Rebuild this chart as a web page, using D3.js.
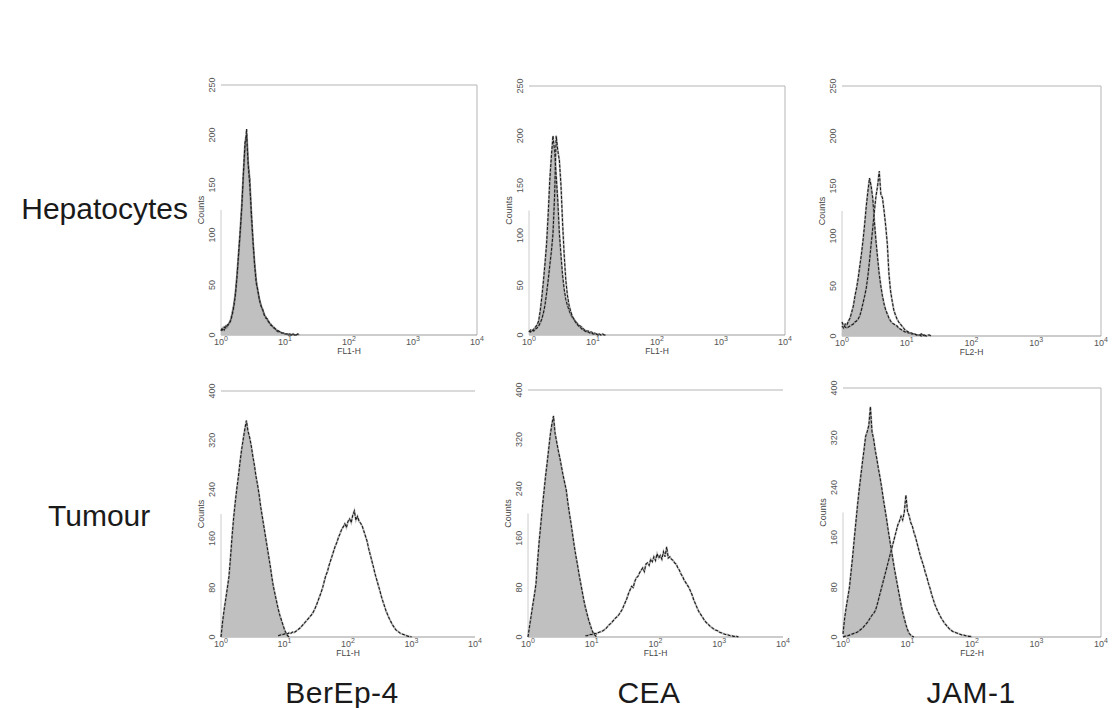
<!DOCTYPE html>
<html><head><meta charset="utf-8">
<script src="https://cdn.jsdelivr.net/npm/d3@7"></script>
<style>body{margin:0;background:#fff}svg{display:block}</style>
</head><body>
<svg id="c" width="1113" height="708"></svg>
<script>
// ---------------- data ----------------
const rowLabels = ["Hepatocytes", "Tumour"];
const colLabels = ["BerEp-4", "CEA", "JAM-1"];
const channelLabels = ["FL1-H", "FL1-H", "FL2-H"];
const xTickExponents = [0, 1, 2, 3, 4];
const hepYTicks = [0, 50, 100, 150, 200, 250];
const tumYTicks = [0, 80, 160, 240, 320, 400];
const decadeStep = 0.025; // histogram channel width in log decades

// Hepatocytes – BerEp-4
const hepBerEpControlStart = 0;
const hepBerEpControl = [4,7,5,9,8,12,15,22,30,42,60,80,102,130,160,188,206,172,156,118,92,72,55,44,36,30,25,21,18,15,12,11,9,7,6,4,3,3,2,2,1,1,0,1,0,1,0,0,1,0];
const hepBerEpSampleStart = 0;
const hepBerEpSample = [6,5,8,7,10,11,14,20,28,40,58,82,104,128,162,192,200,170,150,122,95,70,52,45,35,29,26,20,17,16,13,10,9,8,6,5,4,3,2,2,1,1,1,0,0,1,0,0];
// Hepatocytes – CEA
const hepCeaControlStart = 0;
const hepCeaControl = [3,5,4,6,8,10,14,24,38,54,72,92,122,156,180,200,185,160,135,102,80,60,46,36,30,25,21,18,16,14,12,10,9,8,6,5,4,4,3,3,2,2,1,1,1,0,1,0,0];
const hepCeaSampleStart = 0;
const hepCeaSample = [4,3,5,4,6,7,9,12,16,22,30,42,55,70,84,102,140,200,185,175,150,112,80,55,40,30,24,19,16,13,11,9,8,6,5,4,3,3,2,2,1,1,1,0,0];
// Hepatocytes – JAM-1
const hepJamControlStart = 0;
const hepJamControl = [10,8,12,11,15,18,24,30,40,48,58,70,82,96,112,130,145,158,150,138,115,95,78,62,50,40,32,26,22,18,15,13,12,11,10,8,7,6,5,4,4,3,3,2,2,2,1,1,1,2,1,1,0,1,1,0];
const hepJamSampleStart = 0;
const hepJamSample = [14,10,9,8,9,10,11,12,14,15,17,20,26,33,40,48,60,75,92,108,125,140,150,165,142,138,125,110,92,62,45,35,26,21,17,14,12,10,8,6,5,4,3,3,2,2,1,1,1,0,1,0];
// Tumour – BerEp-4
const tumBerEpControlStart = 0;
const tumBerEpControl = [0,25,45,62,80,98,130,165,195,220,242,262,285,305,322,338,352,335,325,312,295,280,262,248,232,212,196,180,164,148,132,116,98,82,70,58,46,36,28,20,12,6,2,0];
const tumBerEpSampleStart = 0.9;
const tumBerEpSample = [2,3,4,4,5,6,5,7,6,8,7,9,11,13,15,18,21,24,27,30,33,36,40,45,51,58,65,72,80,90,100,106,116,124,132,140,148,154,162,168,175,179,184,178,188,192,186,198,205,190,196,188,185,180,172,164,156,144,134,124,114,103,94,85,76,66,58,50,42,36,30,25,20,16,12,10,8,6,5,4,3,2,1,1,0];
// Tumour – CEA
const tumCeaControlStart = 0;
const tumCeaControl = [0,18,35,52,68,86,122,155,182,210,235,260,282,305,328,345,358,330,316,302,290,276,262,250,238,218,200,184,166,148,132,118,102,88,74,60,48,38,28,20,12,6,3,0];
const tumCeaSampleStart = 0.9;
const tumCeaSample = [2,2,3,4,4,5,6,5,7,8,9,10,12,14,17,20,22,25,28,31,33,36,40,44,50,56,62,70,76,82,80,90,96,98,104,108,112,106,118,120,116,126,122,130,124,135,128,132,126,138,130,146,128,130,126,124,120,118,112,108,102,98,92,88,84,80,74,68,60,54,48,42,38,34,30,26,23,21,18,16,14,12,11,10,8,7,6,5,4,4,3,2,2,1,1,1,0];
// Tumour – JAM-1
const tumJamControlStart = 0;
const tumJamControl = [5,30,48,64,80,105,130,158,185,212,236,258,280,300,322,330,340,370,330,318,300,286,270,256,240,222,206,190,172,156,140,124,108,94,80,66,52,40,30,20,12,6,3,1,0];
const tumJamSampleStart = 0;
const tumJamSample = [0,1,2,2,3,4,5,6,7,8,10,12,14,17,20,23,27,31,35,38,42,50,60,70,80,90,100,110,120,130,140,150,160,170,180,186,194,188,200,228,202,195,184,178,168,160,150,140,130,122,114,104,96,86,78,68,60,52,46,40,35,30,26,22,19,16,13,11,9,8,7,6,5,4,3,3,2,2,1,1,0];

// -------------- layout ----------------
const panels = [
  {row:0,col:0,x0:221,x1:477,y0:85,y1:335,yMax:250,yTicks:hepYTicks,frameRight:true,
   control:{start:hepBerEpControlStart,counts:hepBerEpControl},sample:{start:hepBerEpSampleStart,counts:hepBerEpSample}},
  {row:0,col:1,x0:529,x1:785,y0:86,y1:335,yMax:250,yTicks:hepYTicks,frameRight:true,
   control:{start:hepCeaControlStart,counts:hepCeaControl},sample:{start:hepCeaSampleStart,counts:hepCeaSample}},
  {row:0,col:2,x0:842,x1:1101,y0:86,y1:336,yMax:250,yTicks:hepYTicks,frameRight:true,
   control:{start:hepJamControlStart,counts:hepJamControl},sample:{start:hepJamSampleStart,counts:hepJamSample}},
  {row:1,col:0,x0:221,x1:475,y0:391,y1:637,yMax:400,yTicks:tumYTicks,frameRight:false,
   control:{start:tumBerEpControlStart,counts:tumBerEpControl},sample:{start:tumBerEpSampleStart,counts:tumBerEpSample}},
  {row:1,col:1,x0:528,x1:783,y0:390,y1:637,yMax:400,yTicks:tumYTicks,frameRight:false,
   control:{start:tumCeaControlStart,counts:tumCeaControl},sample:{start:tumCeaSampleStart,counts:tumCeaSample}},
  {row:1,col:2,x0:843,x1:1101,y0:388,y1:637,yMax:400,yTicks:tumYTicks,frameRight:true,
   control:{start:tumJamControlStart,counts:tumJamControl},sample:{start:tumJamSampleStart,counts:tumJamSample}}
];

const svg = d3.select("#c");
const FONT = "'Liberation Sans', Arial, Helvetica, sans-serif";

function toPoints(h){
  return h.counts.map((c,i)=>({v:Math.pow(10, h.start + i*decadeStep), c}));
}

panels.forEach(p=>{
  const w = p.x1 - p.x0, h = p.y1 - p.y0;
  const g = svg.append("g").attr("transform",`translate(${p.x0},${p.y0})`);
  const x = d3.scaleLog().domain([1,1e4]).range([0,w]);
  const y = d3.scaleLinear().domain([0,p.yMax]).range([h,0]);

  // frame
  g.append("line").attr("x1",0).attr("x2",w).attr("y1",0).attr("y2",0).attr("stroke","#b5b5b5").attr("stroke-width",1);
  if(p.frameRight) g.append("line").attr("x1",w).attr("x2",w).attr("y1",0).attr("y2",h).attr("stroke","#b5b5b5").attr("stroke-width",1);
  g.append("line").attr("x1",0).attr("x2",0).attr("y1",h*0.5).attr("y2",h).attr("stroke","#ccc").attr("stroke-width",1);
  g.append("line").attr("x1",0).attr("x2",w).attr("y1",h).attr("y2",h).attr("stroke","#999").attr("stroke-width",1);

  const ctrl = toPoints(p.control), samp = toPoints(p.sample);
  const area = d3.area().x(d=>x(d.v)).y0(h).y1(d=>y(d.c));
  const line = d3.line().x(d=>x(d.v)).y(d=>y(d.c));

  g.append("path").datum(ctrl).attr("d",area).attr("fill","#c0c0c0");
  // fuzzy halo + dashed outline for both histograms
  [ctrl, samp].forEach(s=>{
    g.append("path").datum(s).attr("d",line).attr("fill","none").attr("stroke","#888").attr("stroke-opacity",0.55).attr("stroke-width",2);
    g.append("path").datum(s).attr("d",line).attr("fill","none").attr("stroke","#1a1a1a").attr("stroke-width",1.1).attr("stroke-dasharray","3,1.5");
  });

  // y tick labels (rotated)
  p.yTicks.forEach(t=>{
    g.append("text").attr("transform",`translate(-6,${y(t)}) rotate(-90)`)
      .attr("text-anchor","middle").attr("font-family",FONT).attr("font-size",9).attr("fill","#555")
      .text(t);
  });
  g.append("text").attr("transform",`translate(-17,${h/2}) rotate(-90)`)
    .attr("text-anchor","middle").attr("font-family",FONT).attr("font-size",9).attr("fill","#444").text("Counts");

  // x tick labels 10^k
  xTickExponents.forEach(k=>{
    const t = g.append("text").attr("x",x(Math.pow(10,k))).attr("y",h+10)
      .attr("text-anchor","middle").attr("font-family",FONT).attr("font-size",9).attr("fill","#555");
    t.append("tspan").text("10");
    t.append("tspan").attr("dy",-4).attr("font-size",7).text(k);
  });
  g.append("text").attr("x",w/2).attr("y",h+19).attr("text-anchor","middle")
    .attr("font-family",FONT).attr("font-size",8.5).attr("fill","#444").text(channelLabels[p.col]);
});

// row labels
svg.append("text").attr("x",188).attr("y",219).attr("text-anchor","end")
  .attr("font-family",FONT).attr("font-size",30).attr("fill","#1a1a1a").text(rowLabels[0]);
svg.append("text").attr("x",48).attr("y",526).attr("text-anchor","start")
  .attr("font-family",FONT).attr("font-size",30).attr("fill","#1a1a1a").text(rowLabels[1]);
// column labels
const colCenters = [342, 649, 971];
colLabels.forEach((c,i)=>{
  svg.append("text").attr("x",colCenters[i]).attr("y",703).attr("text-anchor","middle")
    .attr("font-family",FONT).attr("font-size",30).attr("letter-spacing",0.5).attr("fill","#1a1a1a").text(c);
});
</script>
</body></html>
